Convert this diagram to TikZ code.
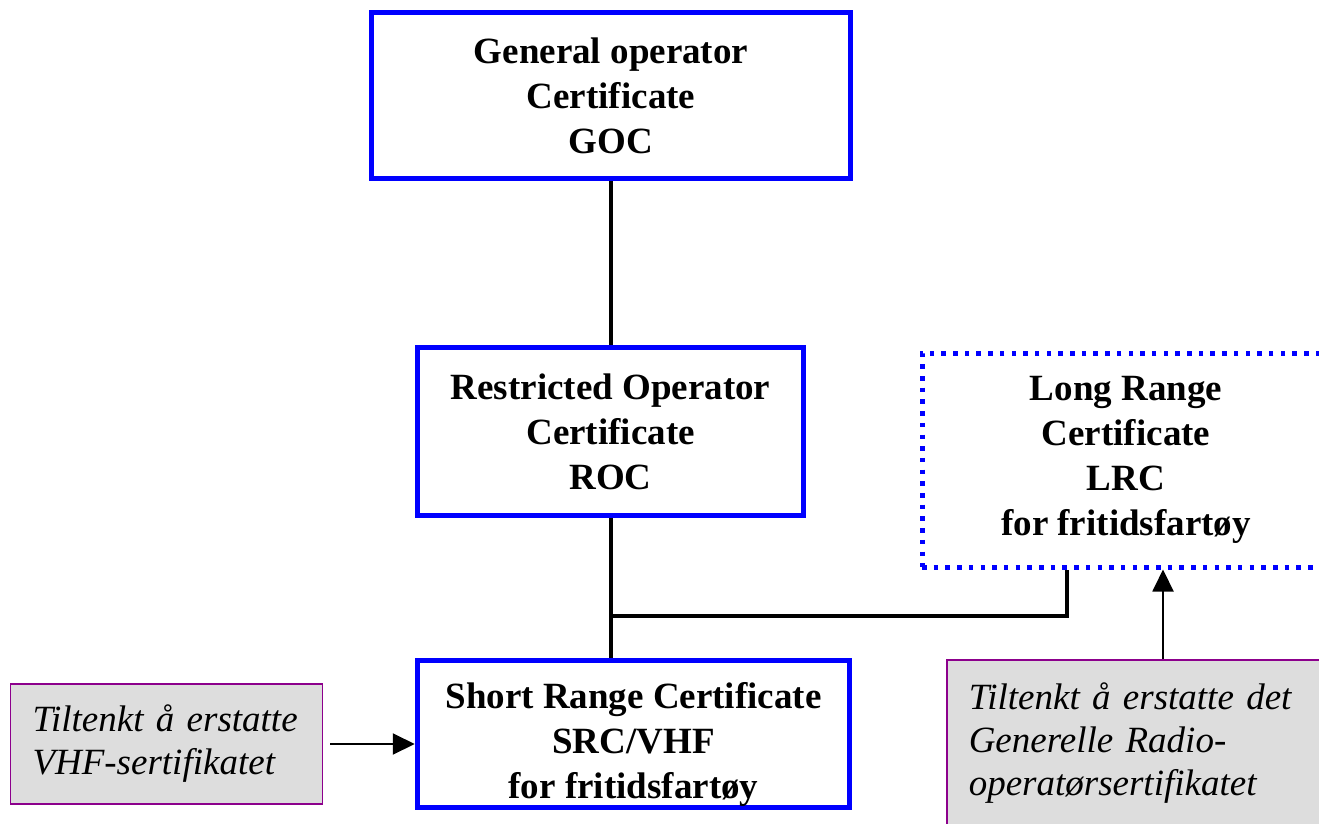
\documentclass[tikz,border=0pt]{standalone}
\usepackage{fontspec}
\setmainfont{Liberation Serif}
\usetikzlibrary{arrows.meta}
\definecolor{boxblue}{RGB}{0,0,255}
\definecolor{notepurple}{RGB}{140,0,140}
\definecolor{notegray}{RGB}{221,221,221}
\begin{document}
\begin{tikzpicture}[x=1pt,y=-1pt,
  cert/.style={draw=boxblue, line width=5.5pt, align=center, inner sep=0pt,
    font=\fontsize{37}{45}\selectfont\bfseries},
  lrcbox/.style={draw=boxblue, line width=5pt, dash pattern=on 4.5pt off 7.2pt,
    align=center, inner sep=0pt, font=\fontsize{37}{45}\selectfont\bfseries},
  note/.style={draw=notepurple, fill=notegray, line width=1.5pt, align=left,
    inner xsep=22pt, font=\fontsize{37}{43}\selectfont\itshape},
  link/.style={line width=4pt, black},
  arr/.style={line width=2pt, black, -{Triangle[length=22pt,width=21pt]}}
]
\clip (0,0) rectangle (1319,824);
\fill[white] (0,0) rectangle (1319,824);

\node[cert, minimum width=479pt, minimum height=166pt] (goc) at (611,95.5)
  {General operator\\Certificate\\GOC};
\node[cert, minimum width=386pt, minimum height=168pt] (roc) at (610.5,431.5)
  {Restricted Operator\\Certificate\\ROC};
\node[cert, minimum width=432pt, minimum height=147pt] (src) at (633.5,734)
  {\rule{0pt}{46pt}Short Range Certificate\\SRC/VHF\\for fritidsfartøy};
\node[lrcbox, minimum width=408pt, minimum height=214pt] (lrc) at (1126,460)
  {Long Range\\Certificate\\LRC\\for fritidsfartøy};

\node[note, text width=268pt, minimum height=120pt] (note1) at (166.5,744)
  {Tiltenkt å erstatte\\VHF-sertifikatet};
\node[note, text width=380pt, anchor=north west, inner ysep=23pt] (note2) at (946,659)
  {Tiltenkt å erstatte det\\Generelle Radio-\\operatørsertifikatet\rule[-40pt]{0pt}{1pt}};

\draw[link] (goc.south -| roc.south) -- (roc.north);
\draw[link] (roc.south) -- (roc.south |- src.north);
\coordinate (lrcfoot) at (1067,0);
\draw[link] (roc.south |- 0,616) coordinate (j) -- (lrcfoot |- j) -- (lrcfoot |- lrc.south);

\draw[arr] ([xshift=217pt]note2.north west) -- ([xshift=217pt]note2.north west |- lrc.south);
\draw[arr] ([xshift=7pt]note1.east) -- (src.west |- note1.east);
\end{tikzpicture}
\end{document}
